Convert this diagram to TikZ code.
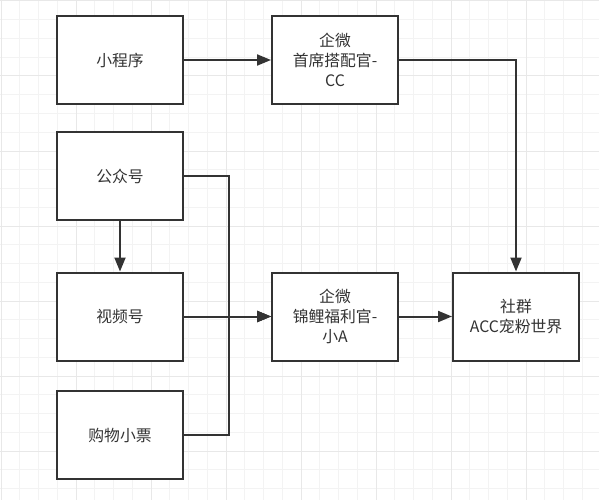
\documentclass[tikz,border=0pt]{standalone}
\usepackage{fontspec}
\newfontfamily\cjk{Noto Sans CJK SC}
\usetikzlibrary{arrows.meta}
\definecolor{ink}{HTML}{333333}
\definecolor{gridminor}{HTML}{F3F3F3}
\definecolor{gridmajor}{HTML}{E8E8E8}
\tikzset{
  box/.style={draw=ink, line width=2pt, fill=white, rectangle,
    minimum width=126pt, minimum height=88pt, inner sep=0pt, align=center,
    text=ink, font=\cjk\fontsize{15.8}{20}\selectfont},
  conn/.style={draw=ink, line width=2pt, -{Triangle[length=14pt,width=11pt]}},
  minorline/.style={draw=gridminor, line width=1pt},
  majorline/.style={draw=gridmajor, line width=1pt}
}
\begin{document}
\begin{tikzpicture}[x=1pt,y=-1pt]
\useasboundingbox (0,0) rectangle (599,500);
\fill[white] (0,0) rectangle (599,500);
\foreach \i in {0,...,31} \draw[minorline] ({1+\i*18.75},0) -- ({1+\i*18.75},500);
\foreach \i in {0,...,26} \draw[minorline] (0,{1+\i*18.75}) -- (599,{1+\i*18.75});
\foreach \i in {0,...,7} \draw[majorline] ({1+\i*75},0) -- ({1+\i*75},500);
\foreach \i in {0,...,6} \draw[majorline] (0,{1+\i*75}) -- (599,{1+\i*75});

\node[box] (xcx) at (120,60) {小程序};
\node[box] (gzh) at (120,176) {公众号};
\node[box] (sph) at (120,316.5) {视频号};
\node[box] (gw) at (120,435) {购物小票};
\node[box] (cc) at (335,60) {企微\\首席搭配官-\\CC};
\node[box] (xa) at (335,316.5) {企微\\锦鲤福利官-\\小A};
\node[box] (sq) at (516,316.5) {社群\\ACC宠粉世界};

\coordinate (j) at (229,316.5);
\coordinate (k) at (516,60);

\draw[conn] (xcx.east) -- (cc.west);
\draw[conn] (cc.east) -- (k) -- (sq.north);
\draw[conn] (gzh.south) -- (sph.north);
\draw[conn] (gzh.east) -| (j) -- (xa.west);
\draw[conn] (gw.east) -| (j) -- (xa.west);
\draw[conn] (sph.east) -- (xa.west);
\draw[conn] (xa.east) -- (sq.west);
\end{tikzpicture}
\end{document}
